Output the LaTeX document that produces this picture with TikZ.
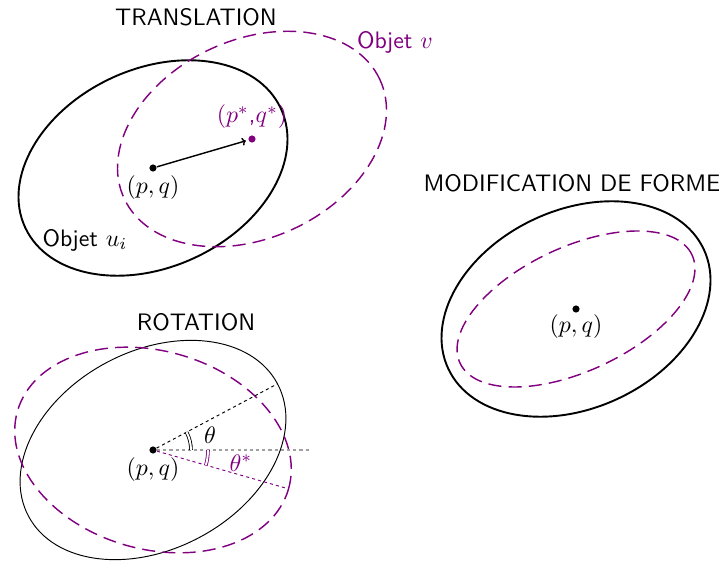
\documentclass[tikz,border=0pt]{standalone}
\usepackage{tikz}
\usepackage{amsmath}
\usetikzlibrary{arrows.meta, positioning, calc}
\definecolor{objv}{HTML}{800080}
\definecolor{ink}{HTML}{000000}
\definecolor{axe}{HTML}{A0A0A0}

\begin{document}
\begin{tikzpicture}[x=0.42pt, y=0.42pt, font=\sffamily,
    pt/.style={circle, fill=ink, inner sep=0pt, minimum size=3pt},
    ptv/.style={circle, fill=objv, inner sep=0pt, minimum size=3pt},
    titre/.style={font=\sffamily, text=ink},
    objetu/.style={draw=ink, thick},
    objetv/.style={draw=objv, semithick, dash pattern=on 5.5pt off 3pt},
    rayon/.style={dash pattern=on 1.3pt off 1.3pt, thin}]

  \useasboundingbox (0,0) rectangle (719,561);

  % translation
  \node[titre] (tt) at (196,544) {TRANSLATION};
  \node[pt]  (pq)  at (153,393) {};
  \node[ptv] (pqs) at (252,422) {};
  \draw[objetu, rotate around={25:(pq)}] (pq) circle[x radius=141, y radius=99];
  \draw[objetv, rotate around={25:(pqs)}] (pqs) circle[x radius=141, y radius=99];
  \draw[-{To[length=1.6pt]}, ink, semithick, shorten >=1pt] (pq) -- (pqs);
  \node[below=-2pt of pq] (lpq) {$(p,q)$};
  \node[above=-1pt of pqs, text=objv] (lpqs) {$(p^*$,$q^*)$};
  \node (lu) at (85,321) {Objet $u_i$};
  \node[text=objv] (lv) at (395,519) {Objet $v$};

  % rotation
  \node[titre] (tr) at (196,239) {ROTATION};
  \node[pt] (pq2) at (153,111) {};
  \draw[ink, thin, rotate around={28:(pq2)}] (pq2) circle[x radius=141, y radius=99];
  \draw[objetv, rotate around={-16:(pq2)}] (pq2) circle[x radius=141, y radius=99];
  \coordinate (h) at (310,111);
  \coordinate (ht) at ($(pq2)+(28:141)$);
  \coordinate (hs) at ($(pq2)+(-16:140)$);
  \draw[rayon, axe, semithick] (pq2) -- (h);
  \draw[rayon, ink] (pq2) -- (ht);
  \draw[rayon, objv] (pq2) -- (hs);
  \draw[ink, double, line width=0.35pt, double distance=0.8pt] ($(pq2)+(38,0)$) arc[start angle=0, end angle=28, radius=38];
  \draw[objv, double, line width=0.35pt, double distance=0.8pt] ($(pq2)+(55,0)$) arc[start angle=0, end angle=-16, radius=55];
  \node[below=-2pt of pq2] (lpq2) {$(p,q)$};
  \node (lt) at (210,126) {$\theta$};
  \node[text=objv] (lts) at (241,98) {$\theta^*$};

  % modification de forme
  \node[titre] (tm) at (572,378) {MODIFICATION DE FORME};
  \node[pt] (pq3) at (576,252) {};
  \draw[objetu, rotate around={25:(pq3)}] (pq3) circle[x radius=141, y radius=99];
  \draw[objetv, rotate around={25:(pq3)}] (pq3) circle[x radius=128, y radius=62];
  \node[below=-3pt of pq3] (lpq3) {$(p,q)$};
\end{tikzpicture}
\end{document}
